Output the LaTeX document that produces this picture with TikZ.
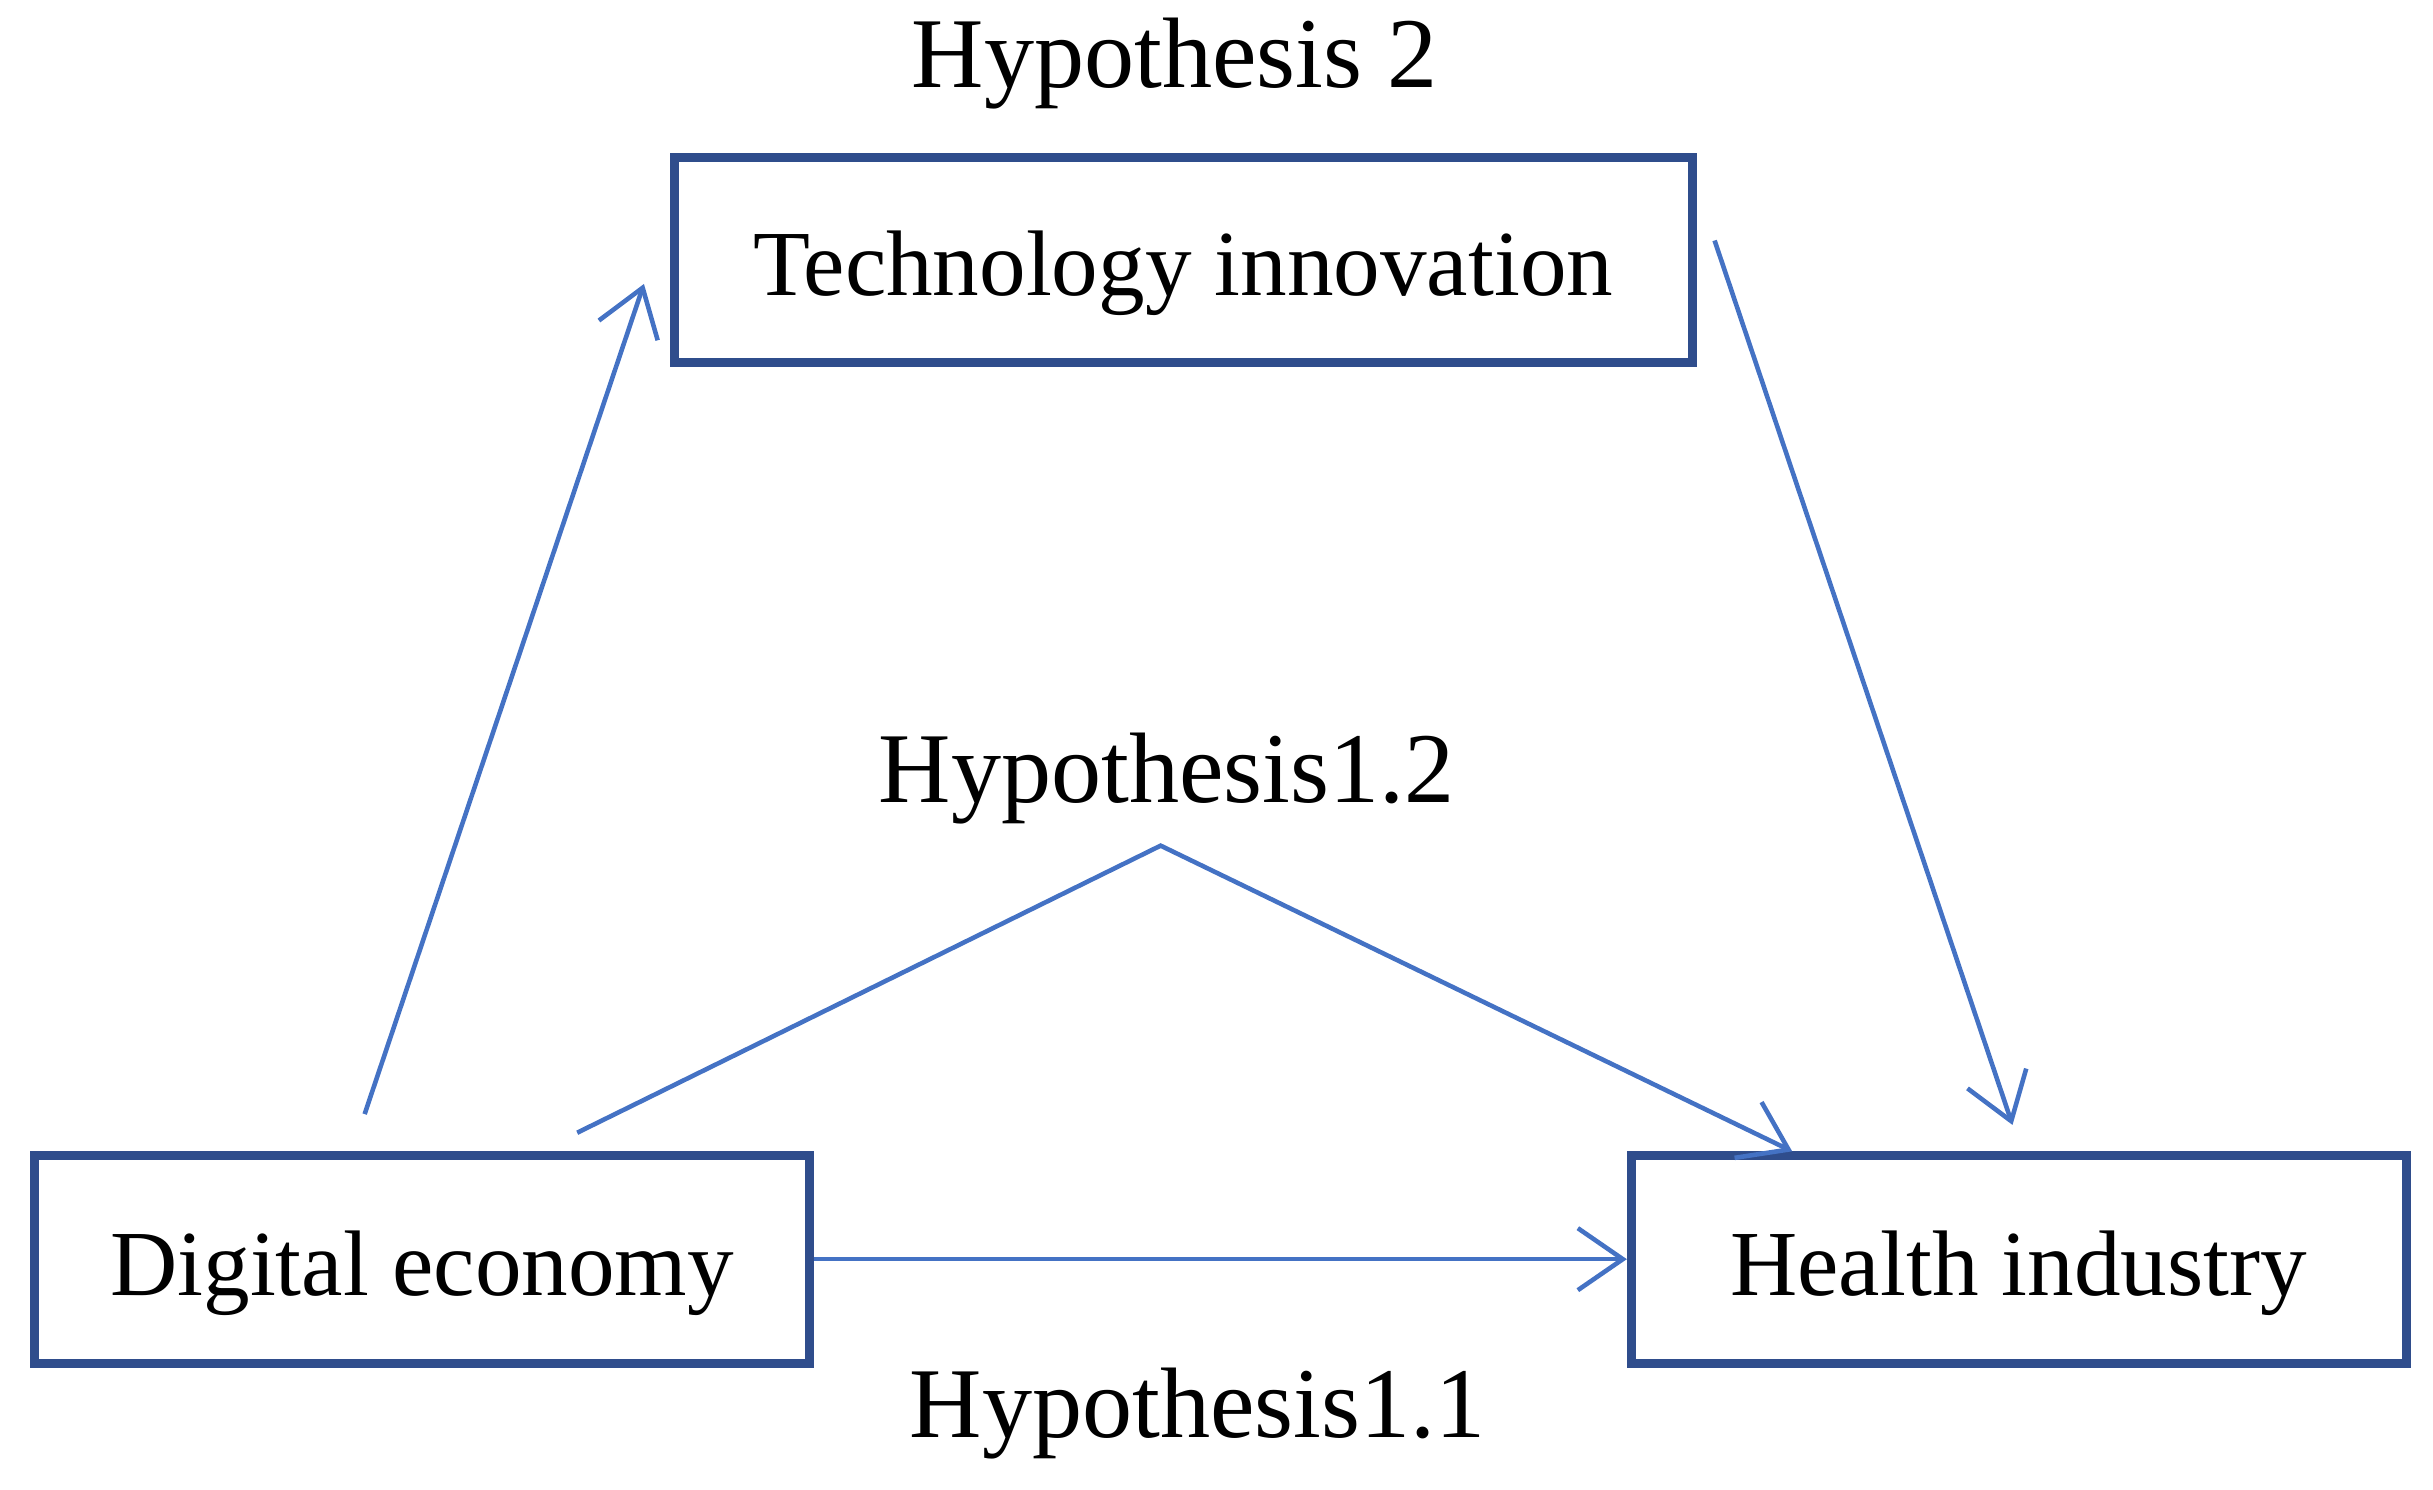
\documentclass[tikz,border=0pt]{standalone}
\usepackage{fontspec}
\setmainfont{Liberation Serif}
\usetikzlibrary{arrows.meta}
\definecolor{boxblue}{RGB}{47,77,140}
\definecolor{arrowblue}{RGB}{68,114,196}

\begin{document}
\begin{tikzpicture}[x=0.01552cm, y=-0.01552cm,
    box/.style={draw=boxblue, line width=2.5pt, inner sep=0pt, text height=0.92cm, text depth=0.2cm,
        font=\fontsize{26.5}{30}\selectfont},
    hyp/.style={inner sep=0pt, font=\fontsize{28.5}{32}\selectfont},
    link/.style={draw=arrowblue, line width=1.3pt},
    >={Straight Barb[length=0.45cm, width=0.62cm, line width=1.3pt]}]
    \useasboundingbox (0,0) rectangle (1568,960);

    % Create the three boxes
    \node[box, minimum width=10.18cm, minimum height=2.05cm] (T) at (762.5,167.5) {Technology innovation};
    \node[box, minimum width=7.75cm, minimum height=2.08cm] (D) at (272,811.5) {Digital economy};
    \node[box, minimum width=7.75cm, minimum height=2.08cm] (H) at (1301,811.5) {Health industry};

    % Hypothesis labels
    \node[hyp] (H2) at (757,41) {Hypothesis 2};
    \node[hyp] (H12) at (752,502) {Hypothesis1.2};
    \node[hyp] (H11) at (772,911) {Hypothesis1.1};

    % Free ends of the connectors
    \coordinate (d1) at (235,718);
    \coordinate (t1) at (415,183);
    \coordinate (t2) at (1105,155);
    \coordinate (h2) at (1297,725);
    \coordinate (d2) at (372,730);
    \coordinate (top) at (748,545);
    \coordinate (h1) at (1155,742);

    % Draw connectors
    \draw[link, ->] (d1) -- (t1);
    \draw[link, ->] (t2) -- (h2);
    \draw[link, ->] (d2) -- (top) -- (h1);
    \draw[link, ->] (D.east) -- (H.west);
\end{tikzpicture}
\end{document}
